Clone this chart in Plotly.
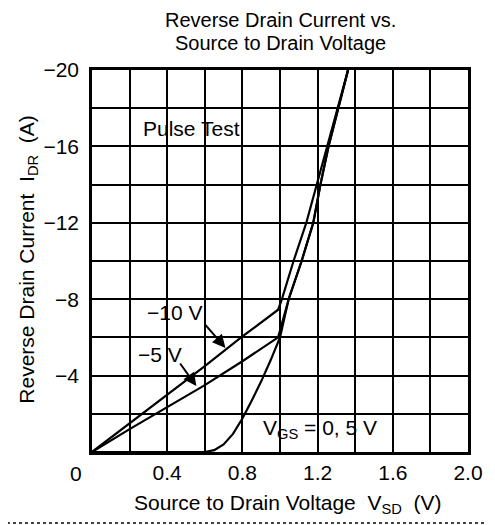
import plotly.graph_objects as go

# ---- data ----
vgs05_x = [0.0, 0.60, 0.65, 0.70, 0.75, 0.80, 0.85, 0.90, 0.95, 1.00, 1.046, 1.115, 1.177, 1.215, 1.258, 1.31, 1.362]
vgs05_y = [0.0, 0.0, -0.1, -0.4, -0.95, -1.75, -2.7, -3.7, -4.8, -6.0, -8.0, -10.0, -12.0, -14.0, -16.0, -18.0, -20.0]

vgs10_x = [0.0, 0.2, 0.4, 0.6, 0.8, 0.99, 1.01, 1.072, 1.14, 1.195, 1.254, 1.308, 1.362]
vgs10_y = [0.0, -1.5, -3.0, -4.5, -6.05, -7.45, -8.0, -10.0, -12.0, -14.0, -16.0, -18.0, -20.0]

vgs5_x = [0.0, 0.2, 0.4, 0.6, 0.8, 0.99, 1.046, 1.115, 1.177, 1.215, 1.258, 1.31, 1.362]
vgs5_y = [0.0, -1.2, -2.35, -3.5, -4.75, -6.0, -8.0, -10.0, -12.0, -14.0, -16.0, -18.0, -20.0]

x_grid = [round(0.2 * i, 1) for i in range(11)]
x_labels = ["", "", "0.4", "", "0.8", "", "1.2", "", "1.6", "", "2.0"]
y_grid = [-20, -18, -16, -14, -12, -10, -8, -6, -4, -2, 0]
y_labels = ["\u221220", "", "\u221216", "", "\u221212", "", "\u22128", "", "\u22124", "", ""]

FONT = "Liberation Sans, Arial, sans-serif"
FS = 21

fig = go.Figure()
for xs, ys in [(vgs05_x, vgs05_y), (vgs10_x, vgs10_y), (vgs5_x, vgs5_y)]:
    fig.add_trace(go.Scatter(x=xs, y=ys, mode="lines",
                             line=dict(color="black", width=2.2),
                             showlegend=False, hoverinfo="skip"))

axis_common = dict(showline=True, mirror=True, linecolor="black", linewidth=2.5,
                   showgrid=True, gridcolor="black", gridwidth=1.6,
                   zeroline=False,
                   tickfont=dict(family=FONT, size=FS, color="black"))

fig.update_xaxes(range=[0, 2.0], tickmode="array", tickvals=x_grid, ticktext=x_labels,
                 ticks="", **axis_common)
fig.update_yaxes(range=[0, -20], tickmode="array", tickvals=y_grid, ticktext=y_labels,
                 ticks="outside", ticklen=6, tickcolor="rgba(0,0,0,0)", **axis_common)

ann = []
def txt(text, x, y, xref="x", yref="y", size=FS, **kw):
    d = dict(text=text, x=x, y=y, xref=xref, yref=yref, showarrow=False,
             font=dict(family=FONT, size=size, color="black"))
    d.update(kw)
    ann.append(d)

# title (two lines)
txt("Reverse Drain Current vs.", 0.5, 1 + (70 - 20) / 382, "paper", "paper", size=20, yanchor="middle")
txt("Source to Drain Voltage", 0.5, 1 + (70 - 43) / 382, "paper", "paper", size=20, yanchor="middle")
# axis titles
txt("Reverse Drain Current  I<sub>DR</sub>  (A)", (27 - 92) / 380, (452 - 260) / 382,
    "paper", "paper", textangle=-90, xanchor="center", yanchor="middle")
txt("Source to Drain Voltage  V<sub>SD</sub>  (V)", (290 - 92) / 380, -(504 - 452) / 382,
    "paper", "paper", xanchor="center", yanchor="middle")
# origin label
txt("0", (76 - 92) / 380, -(474 - 452) / 382, "paper", "paper", xanchor="center", yanchor="middle")
# in-plot labels
txt("Pulse Test", 0.263, -16.96, xanchor="left", yanchor="middle")
txt("\u221210 V", 0.437, -7.33, xanchor="center", yanchor="middle")
txt("\u22125 V", 0.363, -5.13, xanchor="center", yanchor="middle")
txt("V<sub>GS</sub> = 0, 5 V", 0.9, -1.2, xanchor="left", yanchor="middle")

# arrows
ann.append(dict(x=0.71, y=-5.45, ax=0.595, ay=-6.75, xref="x", yref="y", axref="x", ayref="y",
                text="", showarrow=True, arrowhead=2, arrowsize=1.3, arrowwidth=2, arrowcolor="black"))
ann.append(dict(x=0.555, y=-3.45, ax=0.463, ay=-4.71, xref="x", yref="y", axref="x", ayref="y",
                text="", showarrow=True, arrowhead=2, arrowsize=1.3, arrowwidth=2, arrowcolor="black"))

# page body has an 8px default margin, so the figure is drawn 8px in from the window corner
fig.update_layout(
    width=487, height=517,
    margin=dict(l=84, r=23, t=62, b=73),
    plot_bgcolor="white", paper_bgcolor="white",
    annotations=ann,
    shapes=[dict(type="line", xref="paper", yref="paper",
                 x0=-92 / 380, x1=(495 - 92) / 380,
                 y0=-(523 - 452) / 382, y1=-(523 - 452) / 382,
                 line=dict(color="black", width=1.5, dash="dot"))],
)

fig.write_html("out.html")
